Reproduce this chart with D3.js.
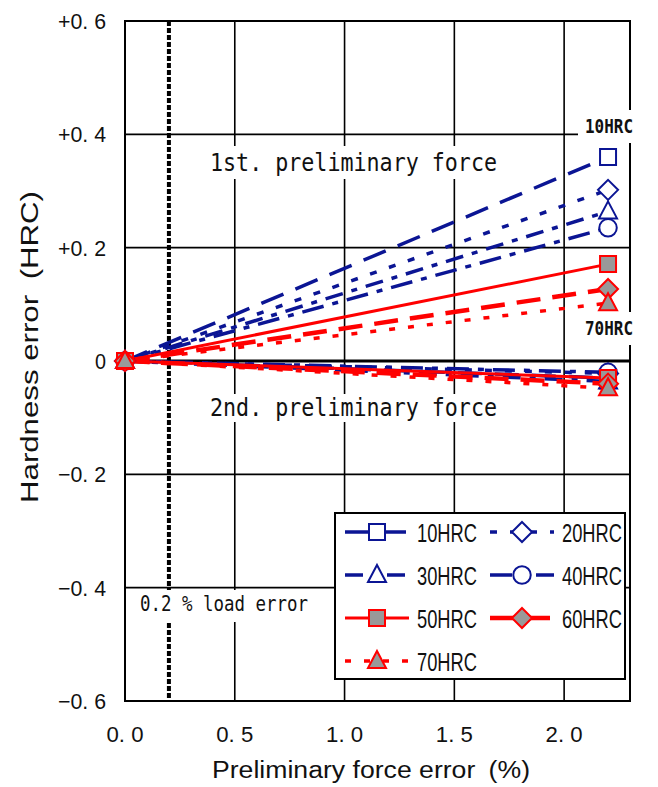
<!DOCTYPE html>
<meta charset="utf-8">
<script src="https://d3js.org/d3.v7.min.js"></script>
<style>
  body { margin: 0; background: #fff; }
  text { fill: #111; }
</style>
<body>
<script>

// hardness grades and their errors at a preliminary force error of 2.2 %
var grades = ["10HRC", "20HRC", "30HRC", "40HRC", "50HRC", "60HRC", "70HRC"];
var forceError = [0, 2.2];
var firstForce = [0.360, 0.302, 0.264, 0.235, 0.171, 0.127, 0.102];
var secondForce = [-0.030, -0.022, -0.036, -0.020, -0.030, -0.040, -0.048];
var xTicks = [0, 0.5, 1.0, 1.5, 2.0];
var yTicks = [0.6, 0.4, 0.2, 0, -0.2, -0.4, -0.6];
var loadError = 0.2;

var navy = "#0b1594", red = "#ff0000";
var styles = [
  {color: navy, dash: "24,13", width: 3.5, symbol: "square", fill: "#fff"},
  {color: navy, dash: "7,13", width: 3.5, symbol: "diamond", fill: "#fff"},
  {color: navy, dash: "18,9,6,9", width: 3.5, symbol: "triangle", fill: "#fff"},
  {color: navy, dash: "22,9,6,9", width: 3.5, symbol: "circle", fill: "#fff"},
  {color: red, dash: null, width: 3, symbol: "square", fill: "#999"},
  {color: red, dash: "24,12", width: 4.5, symbol: "diamond", fill: "#999"},
  {color: red, dash: "6,13", width: 3.5, symbol: "triangle", fill: "#999"}
];

var width = 658, height = 787;
var margin = {top: 21, right: 28, bottom: 86, left: 125};

var svg = d3.select("body").append("svg")
    .attr("width", width)
    .attr("height", height);

var x = d3.scaleLinear().domain([0, 2.3]).range([margin.left, width - margin.right]);
var y = d3.scaleLinear().domain([-0.6, 0.6]).range([height - margin.bottom, margin.top]);

// grid
svg.append("g").selectAll("line")
    .data(xTicks.filter(function(d) { return d > 0; }))
    .enter().append("line")
    .attr("x1", function(d) { return x(d); }).attr("x2", function(d) { return x(d); })
    .attr("y1", y(0.6)).attr("y2", y(-0.6))
    .attr("stroke", "#000").attr("stroke-width", 1.6);

svg.append("g").selectAll("line")
    .data(yTicks.filter(function(d) { return Math.abs(d) < 0.6 && d !== 0; }))
    .enter().append("line")
    .attr("x1", x(0)).attr("x2", x(2.3))
    .attr("y1", function(d) { return y(d); }).attr("y2", function(d) { return y(d); })
    .attr("stroke", "#000").attr("stroke-width", 1.6);

svg.append("rect")
    .attr("x", x(0)).attr("y", y(0.6))
    .attr("width", x(2.3) - x(0)).attr("height", y(-0.6) - y(0.6))
    .attr("fill", "none").attr("stroke", "#000").attr("stroke-width", 2);

// zero line
svg.append("line")
    .attr("x1", x(0)).attr("x2", x(2.3))
    .attr("y1", y(0)).attr("y2", y(0))
    .attr("stroke", "#000").attr("stroke-width", 3);

// 0.2 % load error line
svg.append("line")
    .attr("x1", x(loadError)).attr("x2", x(loadError))
    .attr("y1", y(0.6)).attr("y2", y(-0.6))
    .attr("stroke", "#000").attr("stroke-width", 4)
    .attr("stroke-dasharray", "5,2");

// tick labels
svg.append("g").selectAll("text")
    .data(xTicks)
    .enter().append("text")
    .attr("x", function(d) { return x(d); })
    .attr("y", 742)
    .attr("text-anchor", "middle")
    .attr("font-family", "Liberation Sans, Arial, sans-serif")
    .attr("font-size", "22px")
    .attr("textLength", 37).attr("lengthAdjust", "spacingAndGlyphs")
    .text(function(d) { return d.toFixed(1).replace(".", ". "); });

function yFmt(d) {
  if (d === 0) return "0";
  var s = Math.abs(d).toFixed(1).replace(".", ". ");
  return (d > 0 ? "+" : "\u2212") + s;
}

svg.append("g").selectAll("text")
    .data(yTicks)
    .enter().append("text")
    .attr("x", 106)
    .attr("y", function(d) { return y(d); })
    .attr("dy", "0.36em")
    .attr("text-anchor", "end")
    .attr("font-family", "Liberation Sans, Arial, sans-serif")
    .attr("font-size", "22px")
    .attr("textLength", function(d) { return d === 0 ? 11 : 48; })
    .attr("lengthAdjust", "spacingAndGlyphs")
    .text(yFmt);

// axis titles
svg.append("text")
    .attr("x", 371).attr("y", 778)
    .attr("text-anchor", "middle")
    .attr("font-family", "Liberation Sans, Arial, sans-serif")
    .attr("font-size", "23px")
    .attr("textLength", 318).attr("lengthAdjust", "spacingAndGlyphs")
    .text("Preliminary force error\u2002(%)");

svg.append("text")
    .attr("transform", "translate(38,347) rotate(-90)")
    .attr("text-anchor", "middle")
    .attr("font-family", "Liberation Sans, Arial, sans-serif")
    .attr("font-size", "23px")
    .attr("textLength", 312).attr("lengthAdjust", "spacingAndGlyphs")
    .text("Hardness error\u2002(HRC)");

// boxed annotations
function note(txt, tx, ty, tw, box) {
  svg.append("rect")
      .attr("x", box[0]).attr("y", box[1])
      .attr("width", box[2]).attr("height", box[3])
      .attr("fill", "#fff");
  svg.append("text")
      .attr("x", tx).attr("y", ty)
      .attr("font-family", "DejaVu Sans Mono, monospace")
      .attr("font-size", "25px")
      .attr("textLength", tw).attr("lengthAdjust", "spacingAndGlyphs")
      .text(txt);
}
note("1st. preliminary force", 210, 171, 287, [200, 146, 306, 33]);
note("2nd. preliminary force", 210, 416, 287, [200, 394, 306, 28]);

svg.append("rect").attr("x", 130).attr("y", 590).attr("width", 213).attr("height", 32).attr("fill", "#fff");
svg.append("text")
    .attr("x", 140).attr("y", 611)
    .attr("font-family", "DejaVu Sans Mono, monospace")
    .attr("font-size", "21px")
    .attr("textLength", 168).attr("lengthAdjust", "spacingAndGlyphs")
    .text("0.2 % load error");

// end labels
[["10HRC", 126, [578, 110, 70, 33]], ["70HRC", 328, [578, 312, 70, 33]]].forEach(function(l) {
  svg.append("rect").attr("x", l[2][0]).attr("y", l[2][1])
      .attr("width", l[2][2]).attr("height", l[2][3]).attr("fill", "#fff");
  svg.append("text")
      .attr("x", 585).attr("y", l[1] + 7)
      .attr("font-family", "DejaVu Sans Mono, monospace")
      .attr("font-weight", "bold")
      .attr("font-size", "20px")
      .attr("textLength", 48).attr("lengthAdjust", "spacingAndGlyphs")
      .text(l[0]);
});

// markers
function markerPath(kind) {
  if (kind === "square") return d3.symbol(d3.symbolSquare, 256)();
  if (kind === "diamond") return "M0,-10L10,0L0,10L-10,0Z";
  if (kind === "triangle") return "M0,-10L9,7L-9,7Z";
  return d3.symbol(d3.symbolCircle, 240)();
}

function drawMarker(g, s, px, py) {
  g.append("path")
      .attr("d", markerPath(s.symbol))
      .attr("transform", "translate(" + px + "," + py + ")")
      .attr("fill", s.fill)
      .attr("stroke", s.color)
      .attr("stroke-width", 2);
}

var line = d3.line()
    .x(function(d) { return x(d[0]); })
    .y(function(d) { return y(d[1]); });

var series = svg.append("g");
grades.forEach(function(g, i) {
  var s = styles[i];
  [firstForce[i], secondForce[i]].forEach(function(v) {
    series.append("path")
        .datum([[forceError[0], 0], [forceError[1], v]])
        .attr("d", line)
        .attr("fill", "none")
        .attr("stroke", s.color)
        .attr("stroke-width", s.width)
        .attr("stroke-dasharray", s.dash);
  });
});

var marks = svg.append("g");
grades.forEach(function(g, i) {
  var s = styles[i];
  drawMarker(marks, s, x(forceError[0]), y(0));
  drawMarker(marks, s, x(forceError[1]), y(secondForce[i]));
  drawMarker(marks, s, x(forceError[1]), y(firstForce[i]));
});

// legend
var legend = svg.append("g");
legend.append("rect")
    .attr("x", 335).attr("y", 513).attr("width", 290).attr("height", 166)
    .attr("fill", "#fff").attr("stroke", "#000").attr("stroke-width", 2);

grades.forEach(function(g, i) {
  var s = styles[i];
  var lx = i % 2 === 0 ? 345 : 490;
  var ly = 532 + Math.floor(i / 2) * 43;
  legend.append("line")
      .attr("x1", lx).attr("x2", lx + 64)
      .attr("y1", ly).attr("y2", ly)
      .attr("stroke", s.color)
      .attr("stroke-width", s.width)
      .attr("stroke-dasharray", s.dash);
  drawMarker(legend, s, lx + 32, ly);
  legend.append("text")
      .attr("x", lx + 72).attr("y", ly + 10)
      .attr("font-family", "Liberation Sans, Arial, sans-serif")
      .attr("font-size", "26px")
      .attr("textLength", 60).attr("lengthAdjust", "spacingAndGlyphs")
      .text(g);
});

</script>
</body>
